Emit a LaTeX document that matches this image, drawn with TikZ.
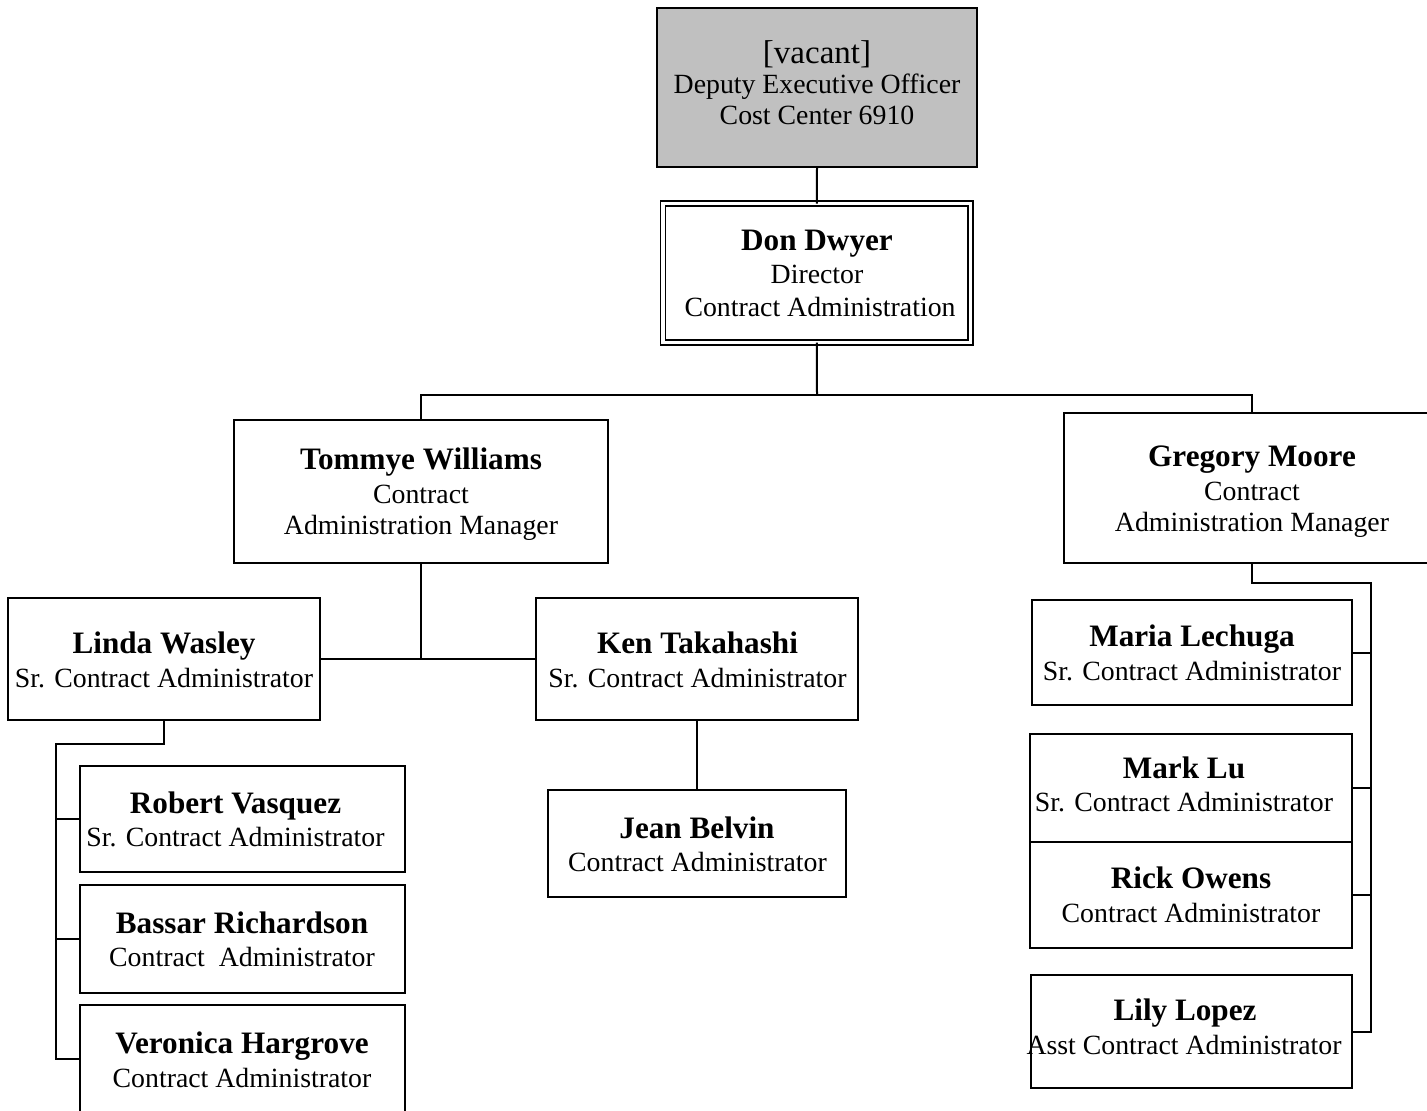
\documentclass[tikz,border=0pt]{standalone}
\usepackage{fontspec}
\setmainfont{Liberation Serif}
\usetikzlibrary{fit}
\definecolor{vacgray}{HTML}{C0C0C0}
\tikzset{
  box/.style={draw, line width=1pt, inner sep=0pt, outer sep=0pt, fit={#1}},
  nm/.style={anchor=base, inner sep=0pt, font=\fontsize{15.6}{17}\selectfont\bfseries},
  tt/.style={anchor=base, inner sep=0pt, font=\fontsize{13.9}{15}\selectfont},
  big/.style={anchor=base, inner sep=0pt, font=\fontsize{16.5}{17}\selectfont},
  conn/.style={line width=1pt},
}
\begin{document}
\begin{tikzpicture}[x=0.5pt,y=-0.5pt]
\useasboundingbox (0,0) rectangle (1427,1110);
\clip (0,0) rectangle (1427,1110);
\fill[white] (0,0) rectangle (1427,1110);

% boxes
\node[box={(657,8)(977,167)}, fill=vacgray] (vac) {};
\node[draw, line width=0.7pt, double, double distance=1.7pt, inner sep=0pt, outer sep=0pt, fit={(663,203.5)(970.5,342.5)}] (don) {};
\node[box={(234,420)(608,563)}] (tom) {};
\node[box={(1064,413)(1440,563)}] (greg) {};
\node[box={(8,598)(320,720)}] (linda) {};
\node[box={(536,598)(858,720)}] (ken) {};
\node[box={(548,790)(846,897)}] (jean) {};
\node[box={(80,766)(405,872)}] (robert) {};
\node[box={(80,885)(405,993)}] (bassar) {};
\node[box={(80,1005)(405,1112)}] (veronica) {};
\node[box={(1032,600)(1352,705)}] (maria) {};
\node[box={(1030,734)(1352,841.5)}] (mark) {};
\node[box={(1030,841.5)(1352,948)}] (rick) {};
\node[box={(1031,975)(1352,1088)}] (lily) {};

% texts
\node[big] (t1) at (817,63) {[vacant]};
\node[tt] (t2) at (817,93.5) {Deputy Executive Officer};
\node[tt] (t3) at (817,124.5) {Cost Center 6910};
\node[nm] (t4) at (817,250) {Don Dwyer};
\node[tt] (t5) at (817,283.5) {Director};
\node[tt] (t6) at (820,316) {Contract Administration};
\node[nm] (t7) at (421,469.5) {Tommye Williams};
\node[tt] (t8) at (421,503) {Contract};
\node[tt] (t9) at (421,534.5) {Administration Manager};
\node[nm] (t10) at (1252,466.5) {Gregory Moore};
\node[tt] (t11) at (1252,500) {Contract};
\node[tt] (t12) at (1252,531.5) {Administration Manager};
\node[nm] (t13) at (164,653) {Linda Wasley};
\node[tt] (t14) at (164,687) {Sr. Contract Administrator};
\node[nm] (t15) at (697.5,653) {Ken Takahashi};
\node[tt] (t16) at (697.5,687) {Sr. Contract Administrator};
\node[nm] (t17) at (697,838.5) {Jean Belvin};
\node[tt] (t18) at (697.5,871) {Contract Administrator};
\node[nm] (t19) at (235.5,813.5) {Robert Vasquez};
\node[tt] (t20) at (235.5,846) {Sr. Contract Administrator};
\node[nm] (t21) at (242,933.5) {Bassar Richardson};
\node[tt] (t22) at (242,966) {Contract\ \ Administrator};
\node[nm] (t23) at (242,1053.5) {Veronica Hargrove};
\node[tt] (t24) at (242,1087) {Contract Administrator};
\node[nm] (t25) at (1192,646.5) {Maria Lechuga};
\node[tt] (t26) at (1192,680) {Sr. Contract Administrator};
\node[nm] (t27) at (1184,778) {Mark Lu};
\node[tt] (t28) at (1184,811) {Sr. Contract Administrator};
\node[nm] (t29) at (1191,888) {Rick Owens};
\node[tt] (t30) at (1191,922) {Contract Administrator};
\node[nm] (t31) at (1185,1020.5) {Lily Lopez};
\node[tt] (t32) at (1184,1054) {Asst Contract Administrator};

% connectors
\coordinate (j1) at (817,395);
\coordinate (lbus) at (56,744);
\coordinate (rbus) at (1371,583);
\draw[conn] (vac.south) -- (don.north);
\draw[conn] (don.south) -- (j1);
\draw[conn] (tom.north) |- (j1) -| (greg.north);
\draw[conn] (tom.south) -- (tom.south |- linda.east);
\draw[conn] (linda.east) -- (ken.west);
\draw[conn] (ken.south) -- (jean.north);
\draw[conn] (linda.south) |- (lbus) |- (veronica.west);
\draw[conn] (lbus |- robert.west) -- (robert.west);
\draw[conn] (lbus |- bassar.west) -- (bassar.west);
\draw[conn] (greg.south) |- (rbus) |- (lily.east);
\draw[conn] (rbus |- maria.east) -- (maria.east);
\draw[conn] (rbus |- mark.east) -- (mark.east);
\draw[conn] (rbus |- rick.east) -- (rick.east);
\end{tikzpicture}
\end{document}
